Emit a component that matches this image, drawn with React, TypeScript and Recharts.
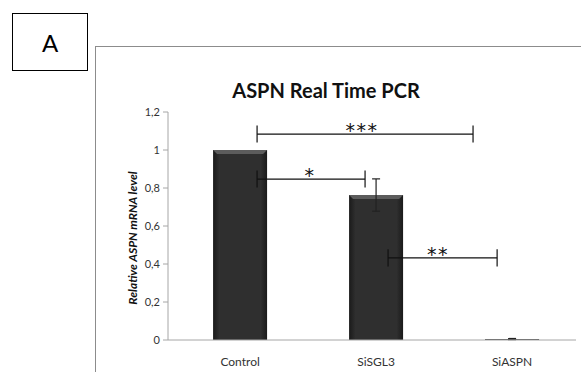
import React from 'react';
import { BarChart, Bar, XAxis, YAxis, ErrorBar, ReferenceLine, ReferenceDot } from 'recharts';

const categories = ['Control', 'SiSGL3', 'SiASPN'];
const values = [1, 0.763, 0.005];
const errors = [0, 0.085, 0.003];
const yTicks = [0, 0.2, 0.4, 0.6, 0.8, 1, 1.2];

// significance brackets (x in category units, y in value units)
const bracketFrom = [0.125, 0.125, 1.088];
const bracketTo = [1.713, 0.919, 1.89];
const bracketLevel = [1.084, 0.847, 0.432];
const bracketMarks = ['***', '*', '**'];
const markAt = [0.897, 0.515, 1.456];
const tickHalf = 0.045;

const rows = categories.map((name, i) => ({ pos: i, name, value: values[i], err: errors[i] }));

const FONT = 'Lato, "Open Sans", sans-serif';

const BevelBar = (props: any) => {
  const { x, y, width, height } = props;
  if (!height || height <= 0) return null;
  const b = Math.min(4, height / 2);
  return (
    <g>
      <rect x={x} y={y} width={width} height={height} fill="url(#barFill)" />
      <polygon
        points={`${x},${y} ${x + width},${y} ${x + width - b},${y + b} ${x + b},${y + b}`}
        fill="#5c5c5c"
      />
    </g>
  );
};

const YLabel = (props: any) => {
  const vb = props.viewBox || {};
  const cx = vb.x + 4;
  const cy = vb.y + vb.height / 2 + 12;
  return (
    <text
      transform={`translate(${cx}, ${cy}) rotate(-90)`}
      textAnchor="middle"
      dominantBaseline="central"
      fontFamily={FONT}
      fontSize={12}
      fontWeight="bold"
      fontStyle="italic"
      fill="#111"
    >
      Relative ASPN mRNA level
    </text>
  );
};

export default function App() {
  return (
    <div
      style={{
        position: 'absolute',
        left: 0,
        top: 0,
        width: 581,
        height: 372,
        overflow: 'hidden',
        background: '#fff',
        fontFamily: FONT,
      }}
    >
      <div
        style={{
          position: 'absolute',
          left: 12,
          top: 13,
          width: 76,
          height: 58,
          boxSizing: 'border-box',
          border: '1.5px solid #000',
          display: 'flex',
          alignItems: 'center',
          justifyContent: 'center',
          fontSize: 24,
          color: '#000',
        }}
      >
        A
      </div>
      <div
        style={{
          position: 'absolute',
          left: 95,
          top: 46,
          width: 600,
          height: 400,
          border: '1px solid #8c8c8c',
        }}
      />
      <div
        style={{
          position: 'absolute',
          left: 0,
          width: 652,
          top: 78,
          lineHeight: '24px',
          fontSize: 20,
          fontWeight: 'bold',
          textAlign: 'center',
          color: '#111',
        }}
      >
        ASPN Real Time PCR
      </div>
      <div style={{ position: 'absolute', left: 0, top: 0 }}>
        <BarChart
          width={581}
          height={372}
          data={rows}
          margin={{ top: 112, right: 5, bottom: 2, left: 128 }}
        >
          <defs>
            <linearGradient id="barFill" x1="0" y1="0" x2="1" y2="0">
              <stop offset="0%" stopColor="#1a1a1a" />
              <stop offset="12%" stopColor="#2f2f2f" />
              <stop offset="88%" stopColor="#2f2f2f" />
              <stop offset="100%" stopColor="#1a1a1a" />
            </linearGradient>
          </defs>
          <XAxis
            dataKey="pos"
            type="number"
            domain={[-0.53, 2.47]}
            ticks={[0, 1, 2]}
            tickFormatter={(v: number) => categories[v]}
            height={30}
            tickLine={false}
            tickMargin={11}
            axisLine={{ stroke: '#a6a6a6' }}
            tick={{ fontSize: 12, fill: '#333', fontFamily: FONT }}
          />
          <YAxis
            type="number"
            domain={[0, 1.2]}
            ticks={yTicks}
            width={40}
            tickSize={5}
            tickMargin={3}
            tickFormatter={(v: number) => String(v).replace('.', ',')}
            axisLine={{ stroke: '#a6a6a6' }}
            tickLine={{ stroke: '#a6a6a6' }}
            tick={{ fontSize: 11, fill: '#333', fontFamily: FONT }}
            label={<YLabel />}
          />
          <Bar dataKey="value" barSize={54} shape={<BevelBar />} isAnimationActive={false}>
            <ErrorBar dataKey="err" width={4} stroke="#222" strokeWidth={1.2} direction="y" />
          </Bar>
          {bracketMarks.map((m, i) => (
            <ReferenceLine
              key={`h${i}`}
              segment={[
                { x: bracketFrom[i], y: bracketLevel[i] },
                { x: bracketTo[i], y: bracketLevel[i] },
              ]}
              stroke="#111"
              strokeWidth={1.2}
              ifOverflow="visible"
            />
          ))}
          {bracketMarks.map((m, i) => (
            <ReferenceLine
              key={`l${i}`}
              segment={[
                { x: bracketFrom[i], y: bracketLevel[i] - tickHalf },
                { x: bracketFrom[i], y: bracketLevel[i] + tickHalf },
              ]}
              stroke="#111"
              strokeWidth={1.2}
              ifOverflow="visible"
            />
          ))}
          {bracketMarks.map((m, i) => (
            <ReferenceLine
              key={`r${i}`}
              segment={[
                { x: bracketTo[i], y: bracketLevel[i] - tickHalf },
                { x: bracketTo[i], y: bracketLevel[i] + tickHalf },
              ]}
              stroke="#111"
              strokeWidth={1.2}
              ifOverflow="visible"
            />
          ))}
          {bracketMarks.map((m, i) => (
            <ReferenceDot
              key={`m${i}`}
              x={markAt[i]}
              y={bracketLevel[i]}
              r={0}
              ifOverflow="visible"
              shape={(p: any) => (
                <text
                  x={p.cx}
                  y={p.cy + 3}
                  textAnchor="middle"
                  fontFamily='"DejaVu Sans", sans-serif'
                  fontSize={19}
                  letterSpacing={1.5}
                  fill="#111"
                >
                  {m}
                </text>
              )}
            />
          ))}
        </BarChart>
      </div>
    </div>
  );
}
